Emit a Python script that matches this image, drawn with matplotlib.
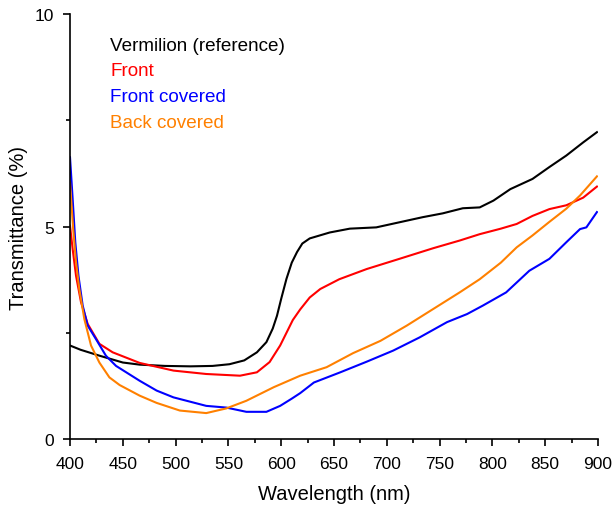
import matplotlib
matplotlib.use("Agg")
import matplotlib.pyplot as plt
from matplotlib.ticker import MultipleLocator

plt.rcParams['font.family'] = ['Liberation Sans', 'DejaVu Sans']

# Vermilion (reference)
ref_x = [400, 410, 428, 450, 466, 490, 514, 535, 551, 565, 577, 586, 592, 596, 600, 605, 610, 615, 620,
         627, 646, 665, 690, 712, 734, 753, 772, 788, 801, 817, 838, 854, 870, 886, 899]
ref_y = [2.2, 2.1, 1.96, 1.8, 1.75, 1.72, 1.71, 1.72, 1.76, 1.85, 2.04, 2.28, 2.6, 2.9, 3.3, 3.77, 4.15, 4.4, 4.6,
         4.72, 4.86, 4.95, 4.98, 5.1, 5.22, 5.31, 5.43, 5.45, 5.61, 5.88, 6.12, 6.4, 6.67, 6.98, 7.22]

# Front
front_x = [400, 402.5, 405.7, 410.4, 416.7, 427.8, 440.4, 466, 498, 529, 561, 577, 589, 599, 605, 611, 618,
           627, 637, 655, 681, 712, 744, 769, 788, 808, 823, 838, 854, 870, 886, 899]
front_y = [5.02, 4.47, 3.84, 3.22, 2.71, 2.24, 2.04, 1.79, 1.61, 1.53, 1.49, 1.57, 1.81, 2.2, 2.5, 2.8, 3.05,
           3.33, 3.53, 3.76, 4.0, 4.24, 4.49, 4.67, 4.82, 4.95, 5.06, 5.25, 5.41, 5.5, 5.68, 5.94]

# Front covered
fcov_x = [400, 402.5, 405, 408, 412, 416.7, 424.6, 434, 443.6, 466, 482, 498, 529, 548, 567, 586, 599, 610,
          618, 631, 656, 681, 706, 731, 757, 776, 791, 813, 835, 854, 870, 883, 889, 899]
fcov_y = [6.63, 5.65, 4.63, 3.84, 3.14, 2.67, 2.35, 1.96, 1.72, 1.37, 1.14, 0.98, 0.78, 0.74, 0.64, 0.64, 0.78, 0.95,
          1.08, 1.33, 1.57, 1.82, 2.08, 2.39, 2.75, 2.94, 3.14, 3.45, 3.96, 4.24, 4.63, 4.94, 4.98, 5.34]

# Back covered
bcov_x = [400, 403, 405.7, 408.8, 413.6, 419.9, 427.8, 437.3, 447, 466, 482, 504, 529, 548, 567, 593, 618,
          643, 668, 694, 719, 744, 769, 788, 808, 823, 838, 854, 870, 883, 899]
bcov_y = [6.04, 4.94, 4.16, 3.53, 2.82, 2.2, 1.8, 1.45, 1.27, 1.02, 0.85, 0.67, 0.61, 0.72, 0.9, 1.22, 1.49,
          1.69, 2.02, 2.31, 2.67, 3.06, 3.45, 3.76, 4.15, 4.51, 4.79, 5.11, 5.42, 5.73, 6.18]

labels = ["Vermilion (reference)", "Front", "Front covered", "Back covered"]
colors = ["black", "#ff0000", "#0000ff", "#ff8000"]

fig = plt.figure(figsize=(6.12, 5.06), dpi=100)
ax = fig.add_axes([0.1144, 0.1304, 0.8627, 0.8399])

series = [(ref_x, ref_y), (front_x, front_y), (fcov_x, fcov_y), (bcov_x, bcov_y)]
for (x, y), c in zip(series, colors):
    ax.plot(x, y, color=c, linewidth=1.5)

# legend as coloured text
for i, (lab, c) in enumerate(zip(labels, colors)):
    ax.text(0.0758, 0.927 - i * 0.061, lab, color=c, fontsize=13.6,
            transform=ax.transAxes, va='center', ha='left')

ax.set_xlim(400, 900)
ax.set_ylim(0, 10)
ax.xaxis.set_major_locator(MultipleLocator(50))
ax.xaxis.set_minor_locator(MultipleLocator(25))
ax.yaxis.set_major_locator(MultipleLocator(5))
ax.yaxis.set_minor_locator(MultipleLocator(2.5))
ax.tick_params(which='major', direction='out', length=5, width=1.2, labelsize=12.5)
ax.tick_params(axis='x', which='major', pad=7.5)
ax.tick_params(axis='y', which='major', pad=6.5)
ax.tick_params(which='minor', direction='out', length=3, width=1.2)
ax.spines['top'].set_visible(False)
ax.spines['right'].set_visible(False)
ax.spines['left'].set_linewidth(1.2)
ax.spines['bottom'].set_linewidth(1.2)

ax.set_xlabel("Wavelength (nm)", fontsize=14.5, labelpad=9)
ax.set_ylabel("Transmittance (%)", fontsize=14.5, labelpad=4.5)

fig.savefig("out.png", dpi=100)
